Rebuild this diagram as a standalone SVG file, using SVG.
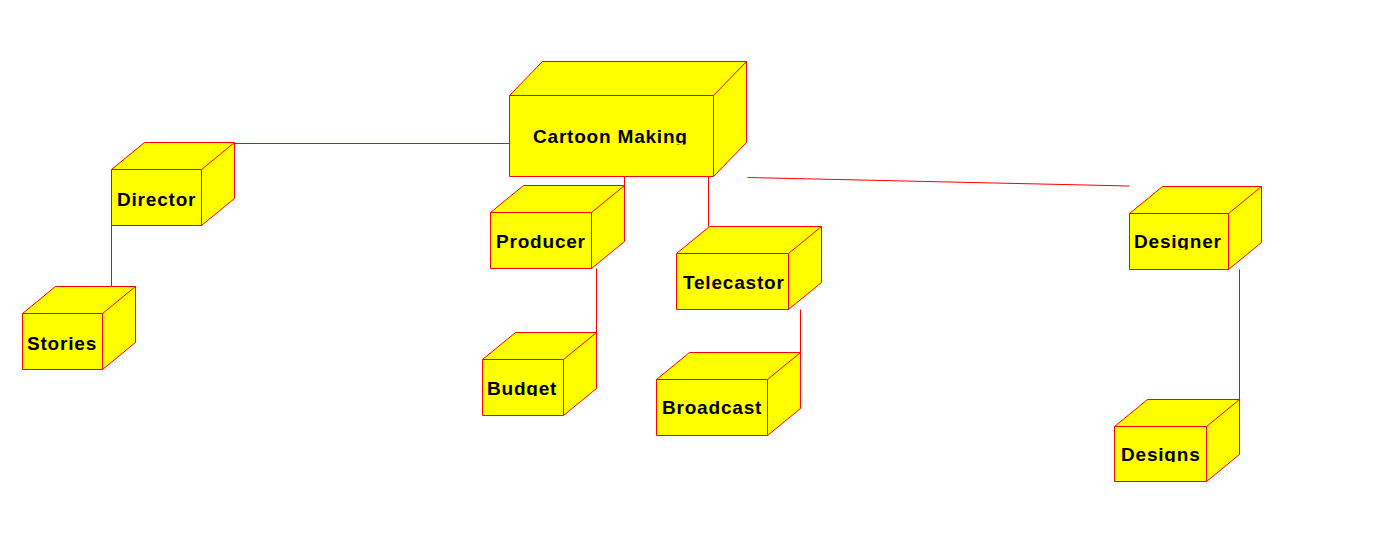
<svg xmlns="http://www.w3.org/2000/svg" width="1389" height="557" viewBox="0 0 1389 557">
<style>
.box{fill:#ffff00;stroke:#ff0000;stroke-width:1;stroke-linejoin:miter}
.inner{fill:none;stroke:#ff0000;stroke-width:1}
.edge{fill:none;stroke:#ff0000;stroke-width:1}
.lbl{font-family:"Liberation Sans",Arial,sans-serif;font-weight:bold;font-size:19px;letter-spacing:0.8px;fill:#000000}
</style>
<defs>
<clipPath id="cMaking"><rect x="509" y="95" width="204" height="49.5"/></clipPath>
<clipPath id="cBudget"><rect x="482" y="359" width="81" height="37"/></clipPath>
<clipPath id="cDesigner"><rect x="1129" y="213" width="99" height="36.5"/></clipPath>
<clipPath id="cDesigns"><rect x="1114" y="426" width="92" height="36"/></clipPath>
</defs>
<rect width="1389" height="557" fill="#ffffff"/>
<g id="connectors">
<line class="edge" x1="234.5" y1="143.5" x2="509.5" y2="143.5"/>
<line class="edge" x1="111.5" y1="225.5" x2="111.5" y2="286.5"/>
<line class="edge" x1="624.5" y1="176.5" x2="624.5" y2="185.5"/>
<line class="edge" x1="708.5" y1="176.5" x2="708.5" y2="226.5"/>
<line class="edge" x1="596.5" y1="268.5" x2="596.5" y2="332.5"/>
<line class="edge" x1="800.5" y1="309.5" x2="800.5" y2="352.5"/>
<line class="edge" x1="747.5" y1="177.5" x2="1129.5" y2="186"/>
<line class="edge" x1="1239.5" y1="269.5" x2="1239.5" y2="399.5"/>
</g>
<g id="cartoon-making">
<path class="box" d="M509.5,95.5 L542.5,61.5 L746.5,61.5 L746.5,142.5 L713.5,176.5 L509.5,176.5 Z"/>
<path class="inner" d="M509.5,95.5 L713.5,95.5 L746.5,61.5 M713.5,95.5 L713.5,176.5"/>
<text class="lbl" x="533" y="143" clip-path="url(#cMaking)">Cartoon Making</text>
</g>
<g id="director">
<path class="box" d="M111.5,169.5 L144.5,142.5 L234.5,142.5 L234.5,198.5 L201.5,225.5 L111.5,225.5 Z"/>
<path class="inner" d="M111.5,169.5 L201.5,169.5 L234.5,142.5 M201.5,169.5 L201.5,225.5"/>
<text class="lbl" x="117" y="206">Director</text>
</g>
<g id="stories">
<path class="box" d="M22.5,313.5 L55.5,286.5 L135.5,286.5 L135.5,342.5 L102.5,369.5 L22.5,369.5 Z"/>
<path class="inner" d="M22.5,313.5 L102.5,313.5 L135.5,286.5 M102.5,313.5 L102.5,369.5"/>
<text class="lbl" x="27" y="350">Stories</text>
</g>
<g id="producer">
<path class="box" d="M490.5,212.5 L523.5,185.5 L624.5,185.5 L624.5,241.5 L591.5,268.5 L490.5,268.5 Z"/>
<path class="inner" d="M490.5,212.5 L591.5,212.5 L624.5,185.5 M591.5,212.5 L591.5,268.5"/>
<text class="lbl" x="496" y="248">Producer</text>
</g>
<g id="telecastor">
<path class="box" d="M676.5,253.5 L709.5,226.5 L821.5,226.5 L821.5,282.5 L788.5,309.5 L676.5,309.5 Z"/>
<path class="inner" d="M676.5,253.5 L788.5,253.5 L821.5,226.5 M788.5,253.5 L788.5,309.5"/>
<text class="lbl" x="683" y="289">Telecastor</text>
</g>
<g id="budget">
<path class="box" d="M482.5,359.5 L515.5,332.5 L596.5,332.5 L596.5,388.5 L563.5,415.5 L482.5,415.5 Z"/>
<path class="inner" d="M482.5,359.5 L563.5,359.5 L596.5,332.5 M563.5,359.5 L563.5,415.5"/>
<text class="lbl" x="487" y="395" clip-path="url(#cBudget)">Budget</text>
</g>
<g id="broadcast">
<path class="box" d="M656.5,379.5 L689.5,352.5 L800.5,352.5 L800.5,408.5 L767.5,435.5 L656.5,435.5 Z"/>
<path class="inner" d="M656.5,379.5 L767.5,379.5 L800.5,352.5 M767.5,379.5 L767.5,435.5"/>
<text class="lbl" x="662" y="414">Broadcast</text>
</g>
<g id="designer">
<path class="box" d="M1129.5,213.5 L1162.5,186.5 L1261.5,186.5 L1261.5,242.5 L1228.5,269.5 L1129.5,269.5 Z"/>
<path class="inner" d="M1129.5,213.5 L1228.5,213.5 L1261.5,186.5 M1228.5,213.5 L1228.5,269.5"/>
<text class="lbl" x="1134" y="248" clip-path="url(#cDesigner)">Designer</text>
</g>
<g id="designs">
<path class="box" d="M1114.5,426.5 L1147.5,399.5 L1239.5,399.5 L1239.5,454.5 L1206.5,481.5 L1114.5,481.5 Z"/>
<path class="inner" d="M1114.5,426.5 L1206.5,426.5 L1239.5,399.5 M1206.5,426.5 L1206.5,481.5"/>
<text class="lbl" x="1121" y="461" clip-path="url(#cDesigns)">Designs</text>
</g>
</svg>
